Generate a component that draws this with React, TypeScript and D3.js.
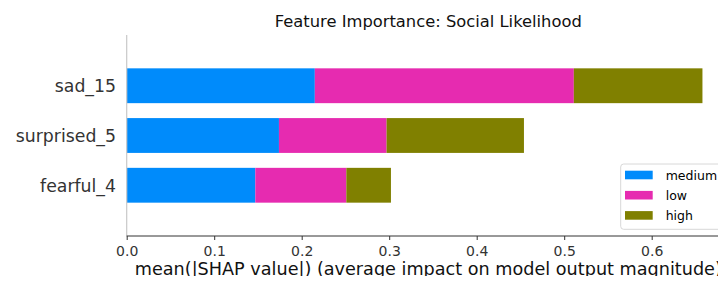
import React, { useEffect, useRef } from 'react';
import * as d3 from 'd3';

// features, top to bottom
const features = ['sad_15', 'surprised_5', 'fearful_4'];
// stacked segments (mean |SHAP| per class)
const medium = [0.215, 0.174, 0.147];
const low = [0.296, 0.123, 0.104];
const high = [0.147, 0.157, 0.051];
const seriesNames = ['medium', 'low', 'high'];
const seriesColors = ['#008bfb', '#e62bb0', '#808000'];
const xTicks = [0, 0.1, 0.2, 0.3, 0.4, 0.5, 0.6];

const FeatureChart = () => {
  const ref = useRef<SVGSVGElement>(null);

  useEffect(() => {
    if (!ref.current) return;
    const svg = d3.select(ref.current);
    svg.selectAll('*').remove();

    const font = 'DejaVu Sans, sans-serif';
    const left = 126.7;
    const top = 35;
    const bottom = 236;

    const x = d3.scaleLinear().domain([0, 0.6]).range([left, left + 525]);
    const y = d3.scaleBand<string>()
      .domain(features)
      .range([top, bottom])
      .paddingInner(0.3)
      .paddingOuter(0.67);

    const rows = features.map((f, i) => ({ feature: f, medium: medium[i], low: low[i], high: high[i] }));
    const stack = d3.stack<any>().keys(seriesNames)(rows);

    // title
    svg.append('text')
      .attr('x', 428.3)
      .attr('y', 27)
      .attr('text-anchor', 'middle')
      .attr('font-family', font)
      .attr('font-size', 16.3)
      .attr('textLength', 307)
      .attr('lengthAdjust', 'spacingAndGlyphs')
      .attr('fill', '#111')
      .text('Feature Importance: Social Likelihood');

    // bars
    svg.selectAll('g.series')
      .data(stack)
      .enter()
      .append('g')
      .attr('class', 'series')
      .attr('fill', (d, i) => seriesColors[i])
      .selectAll('rect')
      .data(d => d)
      .enter()
      .append('rect')
      .attr('x', d => x(d[0]))
      .attr('width', d => x(d[1]) - x(d[0]))
      .attr('y', d => y(d.data.feature)!)
      .attr('height', y.bandwidth());

    // left spine
    svg.append('line')
      .attr('x1', left).attr('x2', left)
      .attr('y1', top).attr('y2', bottom)
      .attr('stroke', '#c8c8c8')
      .attr('stroke-width', 1.2);

    // y labels
    svg.selectAll('text.ylab')
      .data(features)
      .enter()
      .append('text')
      .attr('class', 'ylab')
      .attr('x', 116)
      .attr('y', d => y(d)! + y.bandwidth() / 2)
      .attr('dy', '0.38em')
      .attr('text-anchor', 'end')
      .attr('font-family', font)
      .attr('font-size', 17.3)
      .attr('fill', '#333')
      .text(d => d);

    // x axis
    const axis = svg.append('g')
      .attr('transform', `translate(0,${bottom})`)
      .call(d3.axisBottom(x).tickValues(xTicks).tickFormat(d3.format('.1f')).tickSize(4).tickPadding(6));
    axis.select('.domain')
      .attr('d', `M${left},0H726`)
      .attr('stroke', '#333');
    axis.selectAll('.tick line').attr('stroke', '#333');
    axis.selectAll('.tick text')
      .attr('font-family', font)
      .attr('font-size', 14)
      .attr('fill', '#333');

    svg.append('text')
      .attr('x', 428.3)
      .attr('y', 274.5)
      .attr('text-anchor', 'middle')
      .attr('font-family', font)
      .attr('font-size', 17.4)
      .attr('textLength', 587)
      .attr('lengthAdjust', 'spacingAndGlyphs')
      .attr('fill', '#111')
      .text('mean(|SHAP value|) (average impact on model output magnitude)');

    // legend
    const lg = svg.append('g');
    lg.append('rect')
      .attr('x', 620.7).attr('y', 164)
      .attr('width', 104).attr('height', 65.3)
      .attr('rx', 3)
      .attr('fill', '#fff')
      .attr('stroke', '#d8d8d8');
    seriesNames.forEach((s, i) => {
      const yy = 170.7 + i * 20.2;
      lg.append('rect')
        .attr('x', 625).attr('y', yy)
        .attr('width', 27.7).attr('height', 8.6)
        .attr('fill', seriesColors[i]);
      lg.append('text')
        .attr('x', 665.7).attr('y', yy + 4.3)
        .attr('dy', '0.36em')
        .attr('font-family', font)
        .attr('font-size', 12.5)
        .attr('fill', '#000')
        .text(s);
    });
  }, []);

  return <svg ref={ref} width={726} height={284} style={{ display: 'block' }} />;
};

export default function App() {
  return (
    <div style={{ margin: -8 }}>
      <FeatureChart />
    </div>
  );
}
